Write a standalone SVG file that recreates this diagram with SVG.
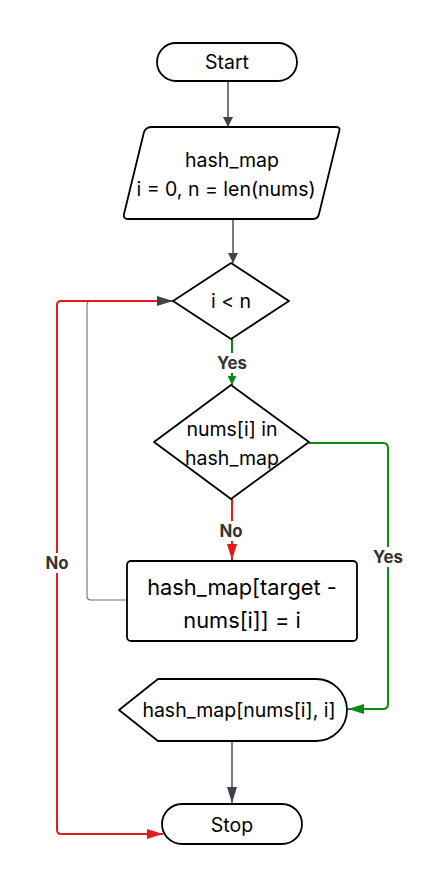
<svg xmlns="http://www.w3.org/2000/svg" width="444" height="885" viewBox="0 0 444 885">
<style>
.n{fill:#fff;stroke:#000;stroke-width:1.8;stroke-linejoin:round}
.t{font-family:Inter,"Liberation Sans",sans-serif;font-size:19.5px;fill:#000;text-anchor:middle;dominant-baseline:central}
.tl{font-size:21.8px}
.c{fill:none;stroke-width:1.4;stroke-linejoin:round}
.g{stroke:#3d434d}
.lg{stroke:#6b7078;stroke-width:1.1}
.gr{stroke:#0a8a12;stroke-width:2}
.rd{stroke:#e41b1b;stroke-width:2}
.lb{font-family:Inter,"Liberation Sans",sans-serif;font-size:16.8px;font-weight:bold;fill:#333;text-anchor:middle;dominant-baseline:central}
</style>
<defs>
<marker id="ag" viewBox="0 0 10 10" refX="10" refY="5" markerWidth="10" markerHeight="10" markerUnits="userSpaceOnUse" orient="auto"><path d="M0,0L10,5L0,10z" fill="#3d434d"/></marker>
<marker id="agl" viewBox="0 0 16 10" refX="16" refY="5" markerWidth="16" markerHeight="10" markerUnits="userSpaceOnUse" orient="auto"><path d="M0,0L16,5L0,10z" fill="#3d434d"/></marker>
<marker id="agr" viewBox="0 0 10 10" refX="10" refY="5" markerWidth="9" markerHeight="9" markerUnits="userSpaceOnUse" orient="auto"><path d="M0,0L10,5L0,10z" fill="#0a8a12"/></marker>
<marker id="agr2" viewBox="0 0 16 10" refX="16" refY="5" markerWidth="16" markerHeight="10" markerUnits="userSpaceOnUse" orient="auto"><path d="M0,0L16,5L0,10z" fill="#0a8a12"/></marker>
<marker id="ard" viewBox="0 0 16 10" refX="16" refY="5" markerWidth="16" markerHeight="12" markerUnits="userSpaceOnUse" orient="auto"><path d="M0,0L16,5L0,10z" fill="#e41b1b"/></marker>
</defs>
<g id="connectors">
<path class="c g" d="M228,81V127" marker-end="url(#ag)"/>
<path class="c g" d="M233,219V263" marker-end="url(#ag)"/>
<path class="c lg" d="M127,600H91Q87,600 87,596V305Q87,301 91,301H173"/>
<path class="c rd" d="M173,301H61Q57,301 57,305V830Q57,834 61,834H163" marker-end="url(#ard)"/>
<path class="c g" d="M157,301H173" marker-end="url(#agl)"/>
<path class="c gr" d="M232,339V385" marker-end="url(#agr)"/>
<path class="c rd" d="M232,499V560" marker-end="url(#ard)"/>
<path class="c gr" d="M309,443H383Q388,443 388,448V704Q388,709 383,709H348" marker-end="url(#agr2)"/>
<path class="c g" d="M232,741V803" marker-end="url(#agl)"/>
<rect x="212" y="353" width="40" height="20" fill="#fff"/>
<text class="lb" x="232" y="363">Yes</text>
<rect x="216" y="521" width="30" height="20" fill="#fff"/>
<text class="lb" x="231" y="531">No</text>
<rect x="368" y="547" width="40" height="20" fill="#fff"/>
<text class="lb" x="388" y="557">Yes</text>
<rect x="42" y="553" width="30" height="20" fill="#fff"/>
<text class="lb" x="57" y="563">No</text>
</g>
<g id="start">
<rect class="n" x="157" y="43" width="140" height="38" rx="19"/>
<text class="t" x="227" y="62">Start</text>
</g>
<g id="init">
<path class="n" d="M152,127H336Q341,127 339,132L319,214Q318,219 313,219H128Q123,219 124,214L144,132Q146,127 152,127Z"/>
<text class="t" x="232" y="160">hash_map</text>
<text class="t" x="226" y="189">i = 0, n = len(nums)</text>
</g>
<g id="cond1">
<path class="n" d="M231,263L289,301L231,339L173,301Z"/>
<text class="t" x="231" y="301">i &lt; n</text>
</g>
<g id="cond2">
<path class="n" d="M231,385L309,442L231,499L154,442Z"/>
<text class="t" x="232" y="429">nums[i] in</text>
<text class="t" x="232" y="458">hash_map</text>
</g>
<g id="assign">
<rect class="n" x="127" y="561" width="230" height="80" rx="4"/>
<text class="t tl" x="242" y="587">hash_map[target -</text>
<text class="t tl" x="242" y="620">nums[i]] = i</text>
</g>
<g id="output">
<path class="n" d="M119,710L158,679H316A31,31 0 0 1 316,741H158Z"/>
<text class="t" x="239" y="710">hash_map[nums[i], i]</text>
</g>
<g id="stop">
<rect class="n" x="162" y="804" width="140" height="40" rx="20"/>
<text class="t" x="232" y="825">Stop</text>
</g>
</svg>
